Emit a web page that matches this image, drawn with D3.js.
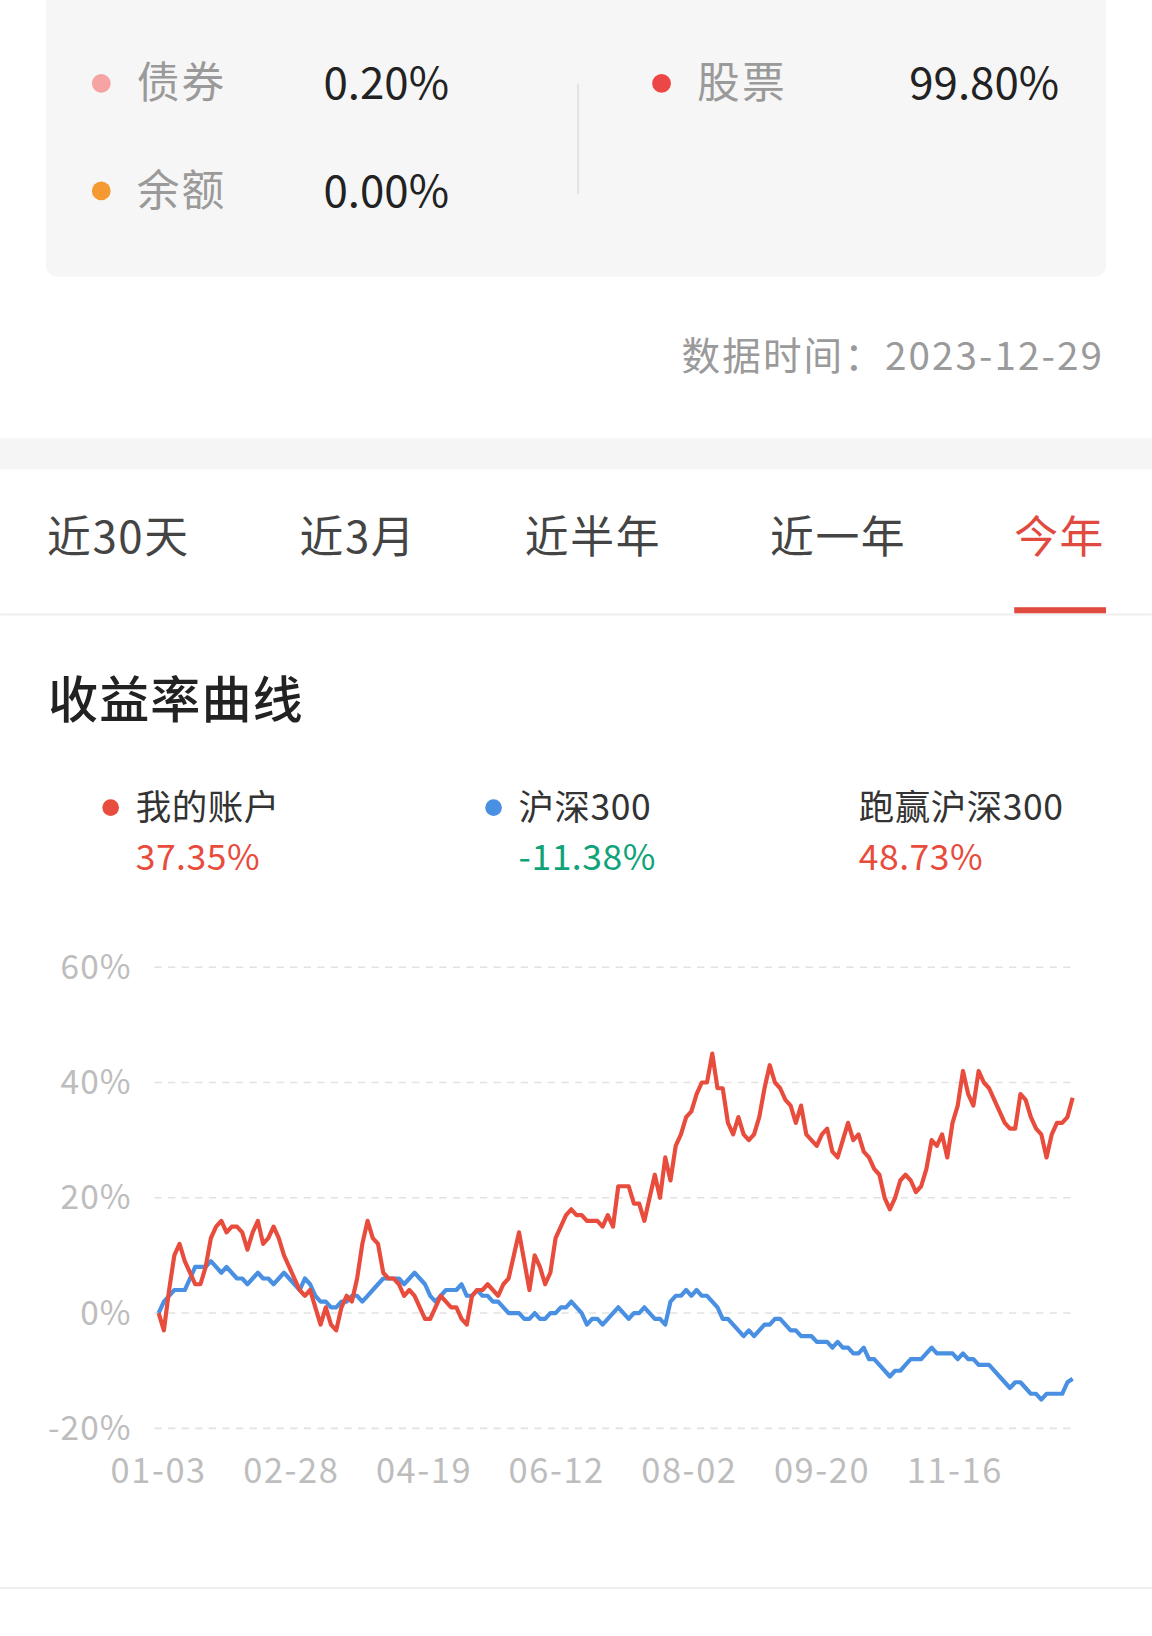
<!DOCTYPE html>
<html>
<head>
<meta charset="utf-8">
<script src="https://cdn.jsdelivr.net/npm/d3@7"></script>
<style>
  html, body { margin: 0; padding: 0; background: #fff; }
  svg { display: block; font-family: "Noto Sans CJK SC", "Noto Sans", sans-serif; }
</style>
</head>
<body>
<svg id="page" width="1152" height="1636" viewBox="0 0 1104 1568"></svg>
<script>
"use strict"

// allocation block
var allocLeft = [["债券", "0.20%", "#f5a3a3"], ["余额", "0.00%", "#f59a32"]];
var allocRight = [["股票", "99.80%", "#ec4646"]];
var dataDate = "数据时间：2023-12-29";
var tabs = ["近30天", "近3月", "近半年", "近一年", "今年"];

// chart
var legendItems = [
  { name: "我的账户", value: "37.35%", dot: "#e84c3d", color: "#e84c3d" },
  { name: "沪深300", value: "-11.38%", dot: "#4a90e2", color: "#10a37a" },
  { name: "跑赢沪深300", value: "48.73%", dot: null, color: "#e84c3d" }
];
var yTicks = [-20, 0, 20, 40, 60];
var xTickLabels = ["01-03", "02-28", "04-19", "06-12", "08-02", "09-20", "11-16"];

// my account, % return, sampled evenly across the year
var myAccount = [0,-3,4,10,12,9,7,5,5,8,13,15,16,14,15,15,14,11,14,16,12,13,15,13,10,8,6,4,3,4,1,-2,1,-2,-3,1,3,2,6,12,16,13,12,7,6,6,5,3,4,3,1,-1,-1,1,3,2,1,1,-1,-2,3,4,4,5,4,3,5,6,10,14,9,4,10,8,5,7,13,15,17,18,17,17,16,16,16,15,17,15,22,22,22,19,19,16,20,24,20,27,23,29,31,34,35,38,40,40,45,39,39,33,31,34,31,30,31,34,39,43,40,39,37,36,33,36,31,30,29,31,32,28,27,30,33,30,31,28,27,25,24,20,18,20,23,24,23,21,22,25,30,29,31,27,33,36,42,38,36,42,40,39,37,35,33,32,32,38,37,34,32,31,27,31,33,33,34,37.35];
// CSI 300, % return
var csi300 = [0,2,3,4,4,4,6,8,8,8,9,8,7,8,7,6,6,5,6,7,6,6,5,6,7,6,5,4,6,5,3,2,2,1,1,2,2,3,3,2,3,4,5,6,6,6,6,5,6,7,6,5,3,2,3,4,4,4,5,3,3,4,3,3,2,2,1,0,0,0,-1,-1,0,-1,-1,0,0,1,1,2,1,0,-2,-1,-1,-2,-1,0,1,0,-1,0,0,1,0,-1,-1,-2,2,3,3,4,3,4,3,3,2,1,-1,-1,-2,-3,-4,-3,-4,-3,-2,-2,-1,-1,-2,-3,-3,-4,-4,-4,-5,-5,-5,-6,-5,-6,-6,-7,-7,-6,-8,-8,-9,-10,-11,-10,-10,-9,-8,-8,-8,-7,-6,-7,-7,-7,-7,-8,-7,-8,-8,-9,-9,-9,-10,-11,-12,-13,-12,-12,-13,-14,-14,-15,-14,-14,-14,-14,-12,-11.38];

var svg = d3.select("#page");

// top card
svg.append("path")
   .attr("d", "M44,0 H1060 V253 Q1060,265 1048,265 H56 Q44,265 44,253 Z")
   .attr("fill", "#f6f6f6");

function allocRow(g, row, i, x0, valueX, anchor) {
  var cy = 80 + i * 103;
  g.append("circle").attr("cx", x0).attr("cy", cy).attr("r", 9).attr("fill", row[2]);
  g.append("text").attr("x", x0 + 34).attr("y", cy + 14).attr("font-size", 41)
   .attr("letter-spacing", 2).attr("fill", "#9a9a9a").text(row[0]);
  g.append("text").attr("x", valueX).attr("y", cy + 15).attr("font-size", 42)
   .attr("text-anchor", anchor).attr("fill", "#222").text(row[1]);
}
var card = svg.append("g");
allocLeft.forEach(function(r, i){ allocRow(card, r, i, 97, 310, "start"); });
allocRight.forEach(function(r, i){ allocRow(card, r, i, 634, 1015, "end"); });
card.append("line").attr("x1", 554).attr("x2", 554).attr("y1", 80).attr("y2", 186)
    .attr("stroke", "#e3e3e3").attr("stroke-width", 2);

svg.append("text").attr("x", 1058).attr("y", 355).attr("text-anchor", "end")
   .attr("font-size", 37).attr("letter-spacing", 2).attr("fill", "#9a9a9a").text(dataDate);

svg.append("rect").attr("x", 0).attr("y", 420).attr("width", 1104).attr("height", 30).attr("fill", "#f5f5f5");

// tabs
var tabX = [45, 287, 503, 738, 972];
svg.selectAll(".tab").data(tabs).enter().append("text")
   .attr("x", function(d, i){ return tabX[i]; })
   .attr("y", 530).attr("font-size", 42).attr("letter-spacing", 1.5)
   .attr("fill", function(d, i){ return i === tabs.length - 1 ? "#e04a3f" : "#444"; })
   .text(function(d){ return d; });
svg.append("rect").attr("x", 972).attr("y", 582).attr("width", 88).attr("height", 6).attr("fill", "#e04a3f");
svg.append("rect").attr("x", 0).attr("y", 588).attr("width", 1104).attr("height", 2).attr("fill", "#efefef");

svg.append("text").attr("x", 46).attr("y", 688).attr("font-size", 48).attr("font-weight", 500)
   .attr("letter-spacing", 1).attr("fill", "#222").text("收益率曲线");

// legend
var legX = [130, 497, 823];
var leg = svg.selectAll(".leg").data(legendItems).enter().append("g")
   .attr("transform", function(d, i){ return "translate(" + legX[i] + ",0)"; });
leg.filter(function(d){ return d.dot; }).append("circle")
   .attr("cx", -24).attr("cy", 774).attr("r", 8).attr("fill", function(d){ return d.dot; });
leg.append("text").attr("y", 786).attr("font-size", 34).attr("letter-spacing", 0.5)
   .attr("fill", "#333").text(function(d){ return d.name; });
leg.append("text").attr("y", 834).attr("font-size", 34).attr("letter-spacing", 0.5)
   .attr("fill", function(d){ return d.color; })
   .text(function(d){ return d.value; });

// chart
var y = d3.scaleLinear().domain([-20, 60]).range([1369, 927]);
var xLeft = 152, xRight = 1028;
var xA = d3.scaleLinear().domain([0, myAccount.length - 1]).range([xLeft, xRight]);
var xB = d3.scaleLinear().domain([0, csi300.length - 1]).range([xLeft, xRight]);
var xLab = d3.scalePoint().domain(xTickLabels).range([152, 915]);

var grid = svg.append("g");
grid.selectAll("line").data(yTicks).enter().append("line")
    .attr("x1", 148).attr("x2", 1030)
    .attr("y1", function(d){ return y(d); }).attr("y2", function(d){ return y(d); })
    .attr("stroke", "#e2e2e2").attr("stroke-width", 1.5).attr("stroke-dasharray", "7,6");
grid.selectAll("text").data(yTicks).enter().append("text")
    .attr("x", 126).attr("y", function(d){ return y(d) + 11; })
    .attr("text-anchor", "end").attr("font-size", 32).attr("letter-spacing", 1).attr("fill", "#bdbdbd")
    .text(function(d){ return d + "%"; });

svg.append("g").selectAll("text").data(xTickLabels).enter().append("text")
   .attr("x", function(d){ return xLab(d); }).attr("y", 1421)
   .attr("text-anchor", "middle").attr("font-size", 33).attr("letter-spacing", 1.5).attr("fill", "#bdbdbd")
   .text(function(d){ return d; });

svg.append("path").datum(csi300)
   .attr("fill", "none").attr("stroke", "#4a90e2").attr("stroke-width", 4).attr("stroke-linejoin", "round")
   .attr("d", d3.line().x(function(d, i){ return xB(i); }).y(function(d){ return y(d); }));
svg.append("path").datum(myAccount)
   .attr("fill", "none").attr("stroke", "#e84c3d").attr("stroke-width", 4).attr("stroke-linejoin", "round")
   .attr("d", d3.line().x(function(d, i){ return xA(i); }).y(function(d){ return y(d); }));

svg.append("rect").attr("x", 0).attr("y", 1521).attr("width", 1104).attr("height", 2).attr("fill", "#efefef");
</script>
</body>
</html>
